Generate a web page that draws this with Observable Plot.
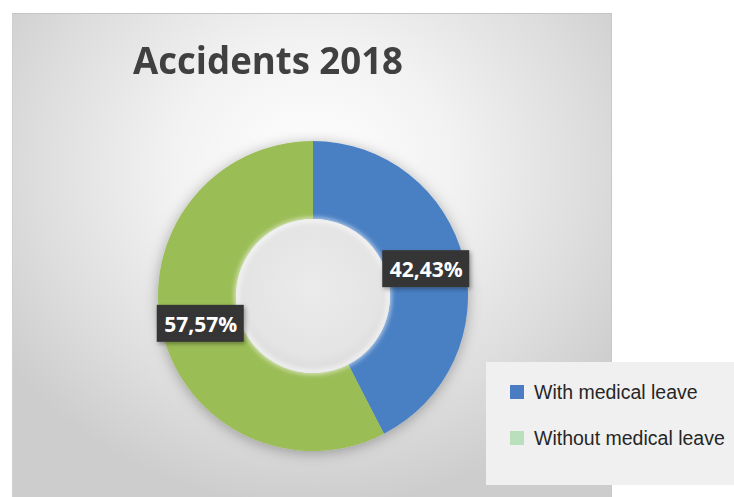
<!DOCTYPE html>
<html>
<head>
<meta charset="utf-8">
<script src="https://cdn.jsdelivr.net/npm/d3@7"></script>
<script src="https://cdn.jsdelivr.net/npm/@observablehq/plot@0.6"></script>
<style>
  html, body { margin: 0; padding: 0; background: #fff; }
  #wrap { position: relative; width: 734px; height: 497px; overflow: hidden; background: #fff; }
  #panel { position: absolute; left: 12px; top: 13px; width: 600px; height: 484px;
    background: radial-gradient(ellipse 62% 70% at 50% 32%, #ffffff 0%, #f2f2f2 38%, #dddddd 75%, #cdcdcd 100%);
    border-top: 1px solid #c4c4c4; border-left: 1px solid #d0d0d0; border-right: 1px solid #c8c8c8; box-sizing: border-box; }
  #title { position: absolute; left: 133px; top: 40px; font-family: "Open Sans", sans-serif; font-weight: 700;
    font-size: 38px; color: #404040; white-space: nowrap; transform-origin: 0 0; line-height: 1; }
  #chart { position: absolute; left: 0; top: 0; }
  #legend { position: absolute; left: 486px; top: 362px; width: 248px; height: 123px; background: #f0f0f0;
    font-family: "Liberation Sans", Arial, sans-serif; font-size: 19.5px; color: #262626; }
  .item { position: absolute; left: 24px; display: flex; align-items: center; white-space: nowrap; line-height: 22px; }
  .sw { width: 14px; height: 14px; margin-right: 10px; }
</style>
</head>
<body>
<div id="wrap">
  <div id="panel"></div>
  <div id="title"></div>
  <div id="chart"></div>
  <div id="legend"></div>
</div>
<script>
// ---- data ----
const title = "Accidents 2018";
const categories = ["With medical leave", "Without medical leave"];
const values = [42.43, 57.57];
const labels = ["42,43%", "57,57%"];
const sliceColors = ["#4a80c4", "#9bbd57"];
const legendColors = ["#4a7cc4", "#b9dfbb"];

// ---- layout ----
const W = 734, H = 497;
const CX = 313, CY = 296, R_OUT = 155, R_IN = 77;

const data = categories.map((c, i) => ({category: c, value: values[i], label: labels[i]}));
const pie = d3.pie().value(d => d.value).sort(null);
const arcs = pie(data);
const arcGen = d3.arc().innerRadius(R_IN).outerRadius(R_OUT);
arcs.forEach((a, i) => {
  const [dx, dy] = arcGen.centroid(a);
  data[i].cx = CX + dx; data[i].cy = CY + dy;
  data[i].start = a.startAngle; data[i].end = a.endAngle;
});

document.getElementById("title").textContent = title;

const donut = Plot.dot(data, {
  x: () => CX, y: () => CY, fill: "category",
  render: (index, scales, vals, dims, context) => {
    const g = d3.create("svg:g");
    const defs = g.append("defs");
    const f = defs.append("filter").attr("id", "dsh").attr("x", "-30%").attr("y", "-30%").attr("width", "160%").attr("height", "160%");
    f.append("feDropShadow").attr("dx", 0).attr("dy", 2).attr("stdDeviation", 7).attr("flood-color", "#000").attr("flood-opacity", 0.3);
    const f2 = defs.append("filter").attr("id", "bsh").attr("x", "-30%").attr("y", "-30%").attr("width", "160%").attr("height", "160%");
    f2.append("feDropShadow").attr("dx", 1.5).attr("dy", 2).attr("stdDeviation", 2).attr("flood-color", "#000").attr("flood-opacity", 0.35);
    const blur = defs.append("filter").attr("id", "blr").attr("x", "-20%").attr("y", "-20%").attr("width", "140%").attr("height", "140%");
    blur.append("feGaussianBlur").attr("stdDeviation", 2.5);
    const rg = defs.append("radialGradient").attr("id", "hole").attr("cx", "50%").attr("cy", "45%").attr("r", "55%");
    rg.append("stop").attr("offset", "0%").attr("stop-color", "#ebebeb");
    rg.append("stop").attr("offset", "80%").attr("stop-color", "#e4e4e4");
    rg.append("stop").attr("offset", "100%").attr("stop-color", "#dadada");
    const arc = d3.arc().innerRadius(R_IN).outerRadius(R_OUT);
    const x0 = vals.x[index[0]], y0 = vals.y[index[0]];
    const gg = g.append("g").attr("filter", "url(#dsh)");
    for (const i of index) {
      gg.append("path")
        .attr("transform", `translate(${vals.x[i]},${vals.y[i]})`)
        .attr("d", arc({startAngle: data[i].start, endAngle: data[i].end}))
        .attr("fill", vals.fill[i]);
    }
    g.append("circle").attr("cx", x0).attr("cy", y0).attr("r", R_IN).attr("fill", "url(#hole)");
    g.append("circle").attr("cx", x0).attr("cy", y0).attr("r", R_IN - 1).attr("fill", "none")
      .attr("stroke", "#ffffff").attr("stroke-opacity", 0.8).attr("stroke-width", 4).attr("filter", "url(#blr)");
    return g.node();
  }
});

const boxW = 87, boxH = 37;
const plot = Plot.plot({
  width: W, height: H, margin: 0,
  style: {background: "transparent", overflow: "visible"},
  x: {domain: [0, W], range: [0, W], axis: null},
  y: {domain: [0, H], range: [0, H], axis: null},
  color: {domain: categories, range: sliceColors},
  marks: [
    donut,
    Plot.rect(data, {x1: d => d.cx - boxW / 2, x2: d => d.cx + boxW / 2, y1: d => d.cy - boxH / 2, y2: d => d.cy + boxH / 2,
      fill: "#363636", render: (index, scales, vals, dims, ctx, next) => {
        const n = next(index, scales, vals, dims, ctx);
        n.setAttribute("filter", "url(#bsh)");
        return n;
      }}),
    Plot.text(data, {x: "cx", y: "cy", text: "label", fill: "#ffffff", fontSize: 21, fontWeight: 700,
      fontFamily: "Open Sans, sans-serif", dy: 1})
  ]
});
document.getElementById("chart").appendChild(plot);

// legend
const leg = document.getElementById("legend");
const tops = [19, 65];
categories.forEach((c, i) => {
  const it = document.createElement("div");
  it.className = "item";
  it.style.top = tops[i] + "px";
  const sw = document.createElement("div");
  sw.className = "sw"; sw.style.background = legendColors[i];
  const t = document.createElement("span"); t.textContent = c;
  it.appendChild(sw); it.appendChild(t);
  leg.appendChild(it);
});

// fit title width to reference
const tEl = document.getElementById("title");
const tw = tEl.getBoundingClientRect().width;
tEl.style.transform = `scaleX(${270 / tw})`;
</script>
</body>
</html>
